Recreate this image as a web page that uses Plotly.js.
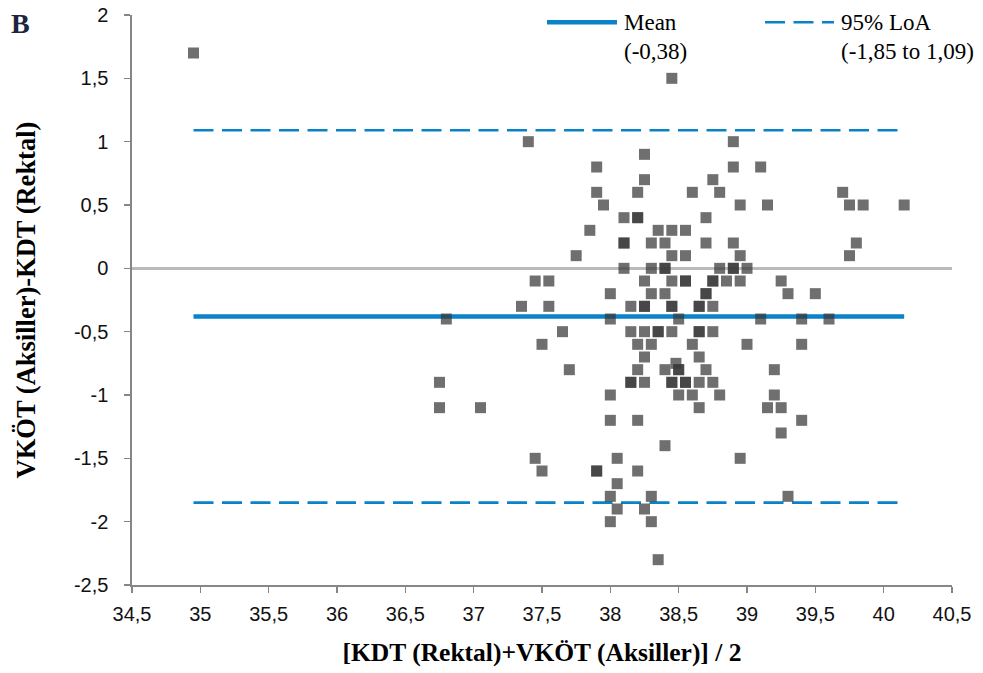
<!DOCTYPE html>
<html>
<head>
<meta charset="utf-8">
<script src="https://cdn.plot.ly/plotly-3.0.1.min.js"></script>
<style>
html,body{margin:0;padding:0;background:#fff;}
#chart{width:983px;height:673px;}
</style>
</head>
<body>
<div id="chart"></div>
<script>
// Bland-Altman data: average of the two measurements (x) and their difference (y)
const avgTemp = [
  34.95,
  38.45,
  37.4, 38.9,
  38.25,
  37.9, 38.9, 39.1,
  38.25, 38.75,
  37.9, 38.2, 38.6, 38.8, 39.7,
  37.95, 38.95, 39.15, 39.75, 39.85, 40.15,
  38.1, 38.2, 38.2, 38.7,
  37.85, 38.35, 38.45, 38.55,
  38.1, 38.1, 38.3, 38.4, 38.7, 38.9, 39.8,
  37.75, 38.45, 38.55, 38.95, 39.75,
  38.1, 38.3, 38.4, 38.4, 38.8, 38.9, 38.9, 39.0,
  37.45, 37.55, 38.25, 38.45, 38.55, 38.55, 38.75, 38.75, 38.85, 38.95, 39.25,
  38.0, 38.3, 38.4, 38.7, 38.7, 39.3, 39.5,
  37.35, 37.55, 38.15, 38.25, 38.25, 38.45, 38.45, 38.65, 38.65, 38.75,
  36.8, 38.0, 38.5, 39.1, 39.4, 39.6,
  37.65, 38.15, 38.25, 38.35, 38.35, 38.45, 38.65, 38.65, 38.75,
  37.5, 38.2, 38.3, 38.6, 39.0, 39.4,
  38.25, 38.65,
  38.48,
  37.7, 38.2, 38.4, 38.5, 38.5, 38.7, 39.2,
  36.75, 38.15, 38.15, 38.25, 38.45, 38.45, 38.55, 38.55, 38.65, 38.75,
  38.0, 38.5, 38.6, 38.8, 39.2,
  36.75, 37.05, 38.65, 39.15, 39.25,
  38.0, 38.2, 39.4,
  39.25,
  38.4,
  37.45, 38.05, 38.95,
  37.5, 37.9, 37.9, 38.2,
  38.05,
  38.0, 38.3, 39.3,
  38.05, 38.25,
  38.0, 38.3,
  38.35
];
const tempDiff = [
  1.7,
  1.5,
  1.0, 1.0,
  0.9,
  0.8, 0.8, 0.8,
  0.7, 0.7,
  0.6, 0.6, 0.6, 0.6, 0.6,
  0.5, 0.5, 0.5, 0.5, 0.5, 0.5,
  0.4, 0.4, 0.4, 0.4,
  0.3, 0.3, 0.3, 0.3,
  0.2, 0.2, 0.2, 0.2, 0.2, 0.2, 0.2,
  0.1, 0.1, 0.1, 0.1, 0.1,
  0, 0, 0, 0, 0, 0, 0, 0,
  -0.1, -0.1, -0.1, -0.1, -0.1, -0.1, -0.1, -0.1, -0.1, -0.1, -0.1,
  -0.2, -0.2, -0.2, -0.2, -0.2, -0.2, -0.2,
  -0.3, -0.3, -0.3, -0.3, -0.3, -0.3, -0.3, -0.3, -0.3, -0.3,
  -0.4, -0.4, -0.4, -0.4, -0.4, -0.4,
  -0.5, -0.5, -0.5, -0.5, -0.5, -0.5, -0.5, -0.5, -0.5,
  -0.6, -0.6, -0.6, -0.6, -0.6, -0.6,
  -0.7, -0.7,
  -0.75,
  -0.8, -0.8, -0.8, -0.8, -0.8, -0.8, -0.8,
  -0.9, -0.9, -0.9, -0.9, -0.9, -0.9, -0.9, -0.9, -0.9, -0.9,
  -1.0, -1.0, -1.0, -1.0, -1.0,
  -1.1, -1.1, -1.1, -1.1, -1.1,
  -1.2, -1.2, -1.2,
  -1.3,
  -1.4,
  -1.5, -1.5, -1.5,
  -1.6, -1.6, -1.6, -1.6,
  -1.7,
  -1.8, -1.8, -1.8,
  -1.9, -1.9,
  -2.0, -2.0,
  -2.3
];
const meanDiff = -0.38;
const loaLower = -1.85;
const loaUpper = 1.09;

const xTickVals = [34.5, 35, 35.5, 36, 36.5, 37, 37.5, 38, 38.5, 39, 39.5, 40, 40.5];
const xTickText = ['34,5','35','35,5','36','36,5','37','37,5','38','38,5','39','39,5','40','40,5'];
const yTickVals = [2, 1.5, 1, 0.5, 0, -0.5, -1, -1.5, -2, -2.5];
const yTickText = ['2','1,5','1','0,5','0','-0,5','-1','-1,5','-2','-2,5'];

const legendMean = ['Mean', '(-0,38)'];
const legendLoa = ['95% LoA', '(-1,85 to 1,09)'];

const xMin = Math.min(...avgTemp);
const xMax = Math.max(...avgTemp);

const blue = '#0a82c8';
const dashPattern = '20px,8.5px';
const traces = [
  {x:[xMin,xMax], y:[loaUpper,loaUpper], mode:'lines', line:{color:blue,width:2.6,dash:dashPattern}, hoverinfo:'skip', showlegend:false},
  {x:[xMin,xMax], y:[loaLower,loaLower], mode:'lines', line:{color:blue,width:2.6,dash:dashPattern}, hoverinfo:'skip', showlegend:false},
  {x:[xMin,xMax], y:[meanDiff,meanDiff], mode:'lines', line:{color:blue,width:4.5}, hoverinfo:'skip', showlegend:false},
  {x:avgTemp, y:tempDiff, mode:'markers', type:'scatter',
   marker:{symbol:'square', size:11, color:'rgba(55,55,55,0.72)', line:{width:0}}, showlegend:false}
];

const tickFont = {family:'Liberation Sans Narrow, Arial Narrow, sans-serif', size:20, color:'#111'};
const xTitleFont = {family:'Liberation Serif, Times New Roman, serif', size:25.5, color:'#000', weight:'bold'};
const yTitleFont = {family:'Liberation Serif, Times New Roman, serif', size:26.5, color:'#000', weight:'bold'};
const legFont = {family:'Liberation Serif, Times New Roman, serif', size:23, color:'#000'};

const W = 983, H = 673, mL = 132, mR = 31, mT = 15, mB = 88;
const pw = W - mL - mR, ph = H - mT - mB;
const px = v => (v - mL) / pw;
const py = v => (H - mB - v) / ph;

const layout = {
  width: W, height: H,
  margin: {l:mL, r:mR, t:mT, b:mB, pad:0},
  paper_bgcolor:'#fff', plot_bgcolor:'#fff',
  separators: ',.',
  showlegend:false,
  xaxis: {
    range:[34.5,40.5], tickvals:xTickVals, ticktext:xTickText,
    showgrid:false, zeroline:false, showline:true, linecolor:'#868686', linewidth:1.6,
    ticks:'outside', ticklen:6, tickwidth:1.6, tickcolor:'#868686',
    tickfont:tickFont, ticklabelstandoff:4,
    title:{text:'[KDT (Rektal)+VKÖT (Aksiller)] / 2', font:xTitleFont, standoff:19},
    automargin:false, fixedrange:true
  },
  yaxis: {
    range:[-2.5,2], tickvals:yTickVals, ticktext:yTickText,
    showgrid:false, zeroline:true, zerolinecolor:'#bababa', zerolinewidth:2.4,
    showline:true, linecolor:'#868686', linewidth:1.6,
    ticks:'outside', ticklen:6, tickwidth:1.6, tickcolor:'#868686',
    tickfont:tickFont, ticklabelstandoff:12,
    title:{text:'VKÖT (Aksiller)-KDT (Rektal)', font:yTitleFont, standoff:30},
    automargin:false, fixedrange:true
  },
  shapes: [
    {type:'line', xref:'paper', yref:'paper', x0:px(547), x1:px(617), y0:py(22.3), y1:py(22.3), line:{color:blue,width:4.5}},
    {type:'line', xref:'paper', yref:'paper', x0:px(765), x1:px(834), y0:py(22.3), y1:py(22.3), line:{color:blue,width:2.6,dash:dashPattern}}
  ],
  annotations: [
    {xref:'paper', yref:'paper', x:px(622), y:py(22.5), xanchor:'left', yanchor:'middle', text:legendMean[0], showarrow:false, font:legFont},
    {xref:'paper', yref:'paper', x:px(622), y:py(51.5), xanchor:'left', yanchor:'middle', text:legendMean[1], showarrow:false, font:legFont},
    {xref:'paper', yref:'paper', x:px(839), y:py(22.5), xanchor:'left', yanchor:'middle', text:legendLoa[0], showarrow:false, font:legFont},
    {xref:'paper', yref:'paper', x:px(839), y:py(51.5), xanchor:'left', yanchor:'middle', text:legendLoa[1], showarrow:false, font:legFont},
    {xref:'paper', yref:'paper', x:px(21), y:py(23), xanchor:'center', yanchor:'middle', text:'B', showarrow:false,
     font:{family:'Liberation Serif, Times New Roman, serif', size:28, color:'#1b2440', weight:'bold'}}
  ]
};

Plotly.newPlot('chart', traces, layout, {displayModeBar:false, staticPlot:true});
</script>
</body>
</html>
